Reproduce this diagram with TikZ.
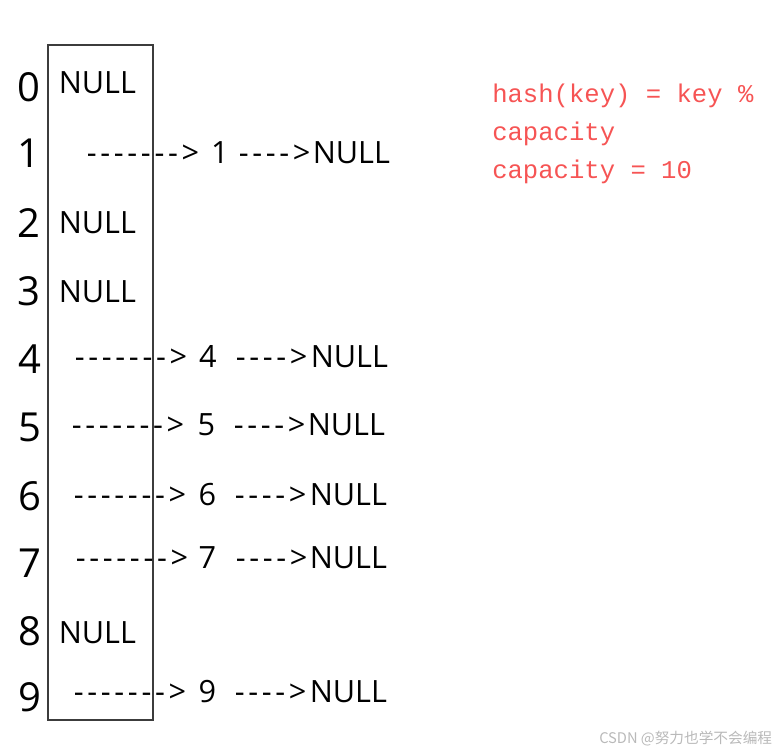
\documentclass[tikz,border=0pt]{standalone}
\usepackage{fontspec}
\setmainfont{Open Sans}
\newfontfamily\dashfont[LetterSpace=12]{Open Sans}
\newfontfamily\codefont{Liberation Mono}
\newfontfamily\cjkfont{Noto Sans CJK SC}
\definecolor{hashred}{RGB}{246,84,84}
\definecolor{framegray}{RGB}{60,60,60}
\definecolor{markgray}{RGB}{185,185,185}
\tikzset{
  idx/.style={anchor=base, inner sep=0pt, font=\fontsize{30}{36}\selectfont},
  cell/.style={anchor=base west, inner sep=0pt, font=\fontsize{23}{27}\selectfont},
  keyval/.style={anchor=base, inner sep=0pt, font=\fontsize{23}{27}\selectfont},
  link/.style={anchor=base west, inner sep=0pt, font=\fontsize{23}{27}\dashfont},
  hashnote/.style={anchor=base west, inner sep=0pt, text=hashred, font=\fontsize{19.2}{23}\codefont},
}

\begin{document}
\begin{tikzpicture}[x=0.75pt, y=-0.75pt]
    \useasboundingbox (0,0) rectangle (779,751);

    % Bucket array
    \draw[framegray, line width=1pt] (48,45) rectangle (153,720);

    % Indices
    \node[idx] (idx0) at (29,101) {0};
    \node[idx] (idx1) at (29,167) {1};
    \node[idx] (idx2) at (29,237) {2};
    \node[idx] (idx3) at (29,305) {3};
    \node[idx] (idx4) at (30,373) {4};
    \node[idx] (idx5) at (30,441) {5};
    \node[idx] (idx6) at (30,510) {6};
    \node[idx] (idx7) at (30,577) {7};
    \node[idx] (idx8) at (30,645) {8};
    \node[idx] (idx9) at (30,711) {9};

    % Empty buckets
    \node[cell] (cell0) at (58.5,93) {NULL};
    \node[cell] (cell2) at (58.5,233) {NULL};
    \node[cell] (cell3) at (58.5,302) {NULL};
    \node[cell] (cell8) at (58.5,643) {NULL};

    % Bucket 1
    \node[link] (link1) at (86.5,163) {------->};
    \node[keyval] (key1) at (220,163) {1};
    \node[link] (next1) at (238.5,163) {---->};
    \node[cell] (end1) at (312.5,163) {NULL};

    % Bucket 4
    \node[link] (link4) at (74.5,367) {------->};
    \node[keyval] (key4) at (208,367) {4};
    \node[link] (next4) at (235.5,367) {---->};
    \node[cell] (end4) at (310.5,367) {NULL};

    % Bucket 5
    \node[link] (link5) at (71.5,435) {------->};
    \node[keyval] (key5) at (206.5,435) {5};
    \node[link] (next5) at (233.5,435) {---->};
    \node[cell] (end5) at (307.5,435) {NULL};

    % Bucket 6
    \node[link] (link6) at (73.5,505) {------->};
    \node[keyval] (key6) at (207.5,505) {6};
    \node[link] (next6) at (234.5,505) {---->};
    \node[cell] (end6) at (309.5,505) {NULL};

    % Bucket 7
    \node[link] (link7) at (75.5,568) {------->};
    \node[keyval] (key7) at (207.5,568) {7};
    \node[link] (next7) at (235.5,568) {---->};
    \node[cell] (end7) at (309.5,568) {NULL};

    % Bucket 9
    \node[link] (link9) at (73.5,702) {------->};
    \node[keyval] (key9) at (207.5,702) {9};
    \node[link] (next9) at (234.5,702) {---->};
    \node[cell] (end9) at (309.5,702) {NULL};

    % Hash function
    \node[hashnote] (hash1) at (492,102) {hash(key) = key \%};
    \node[hashnote] (hash2) at (492,140) {capacity};
    \node[hashnote] (hash3) at (492,178) {capacity = 10};

    % Watermark
    \node[anchor=base west, inner sep=0pt, text=markgray, font=\fontsize{11}{13}\cjkfont] (mark) at (599,743) {CSDN @努力也学不会编程};
\end{tikzpicture}
\end{document}
